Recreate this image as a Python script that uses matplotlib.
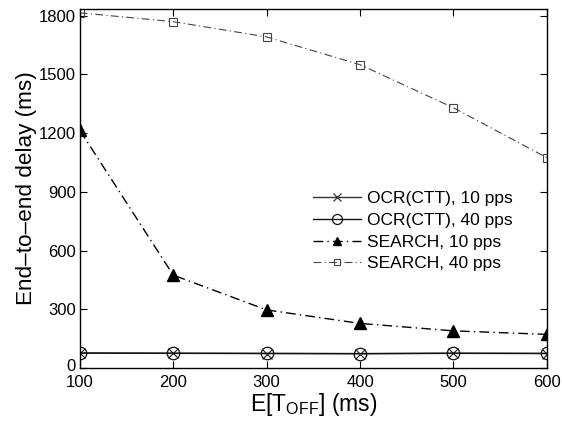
import numpy as np
import matplotlib.pyplot as plt
import matplotlib.transforms as mtransforms

plt.rcParams['font.family'] = ['Liberation Sans', 'DejaVu Sans']

# --- data ---
t_off = [100, 200, 300, 400, 500, 600]
ocr_10 = [76, 75, 74, 73, 75, 74]
ocr_40 = [77, 76, 75, 74, 76, 75]
search_10 = [1215, 475, 297, 228, 190, 172]
search_40 = [1815, 1770, 1692, 1550, 1330, 1075]

fig = plt.figure(figsize=(5.62, 4.25), dpi=100)
ax = fig.add_axes([0.142, 0.134, 0.831, 0.845])

ax.plot(t_off, ocr_10, color='#333333', lw=1.0, marker='x', ms=7, mew=0.9,
        label='OCR(CTT), 10 pps')
ax.plot(t_off, ocr_40, color='#111111', lw=1.0, marker='o', ms=9, mfc='none', mew=0.9,
        label='OCR(CTT), 40 pps')
ax.plot(t_off, search_10, color='black', lw=1.0, ls=(0, (7, 3, 1, 3)), marker='^', ms=8,
        mfc='black', label='SEARCH, 10 pps')
ax.plot(t_off, search_40, color='#444444', lw=0.8, ls=(0, (7, 3, 1, 3)), marker='s', ms=6,
        mfc='none', mew=0.8, label='SEARCH, 40 pps')

ax.set_xlim(100, 600)
ax.set_ylim(0, 1835)
ax.set_xticks(t_off)
ax.set_yticks([0, 300, 600, 900, 1200, 1500, 1800])
ax.tick_params(direction='in', top=True, right=True, labelsize=12, length=5)
ax.tick_params(axis='x', pad=5)
ax.tick_params(axis='y', pad=3)
for s in ax.spines.values():
    s.set_linewidth(1.0)

# lift the "0" label a little, as in the reference
zero_lbl = ax.get_yticklabels()[0]
zero_lbl.set_transform(zero_lbl.get_transform() +
                       mtransforms.ScaledTranslation(0, 2 / 72, fig.dpi_scale_trans))

ax.set_xlabel('E[T$_{\\mathregular{OFF}}$] (ms)', fontsize=16.5, labelpad=1)
ax.set_ylabel('End\u2013to\u2013end delay (ms)', fontsize=16.2, labelpad=1)

leg = ax.legend(loc='upper left', bbox_to_anchor=(0.499, 0.493), frameon=False,
                fontsize=12.5, handlelength=2.8, labelspacing=0.38, handletextpad=0.3,
                borderpad=0, borderaxespad=0, markerscale=0.8)

fig.savefig('out.png', dpi=100)
